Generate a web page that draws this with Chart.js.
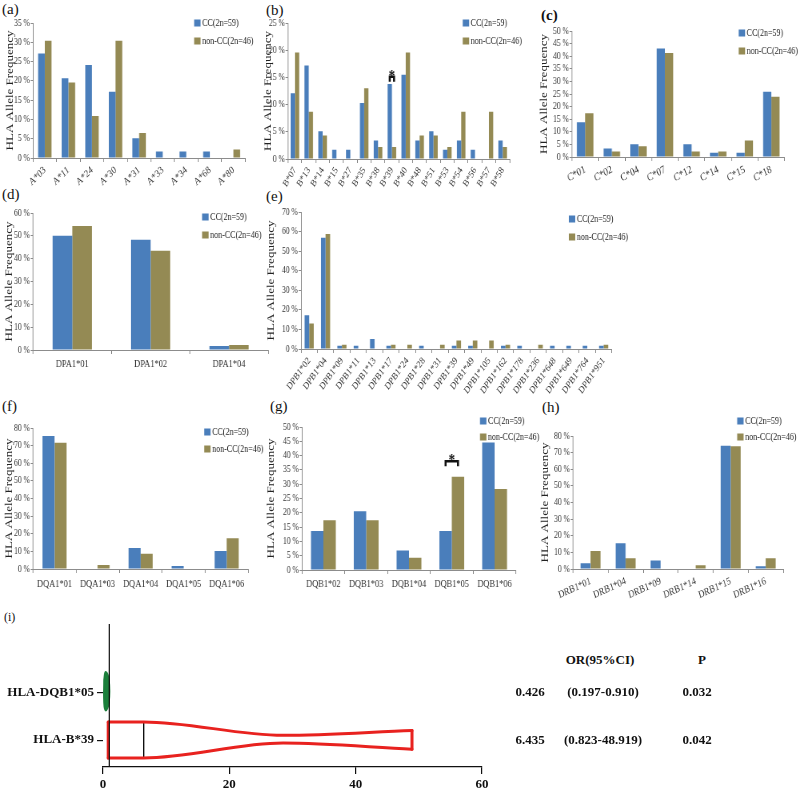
<!DOCTYPE html>
<html>
<head>
<meta charset="utf-8">
<script src="https://cdn.jsdelivr.net/npm/chart.js@4.4.1/dist/chart.umd.min.js"></script>
<style>
  body { margin: 0; background: #fff; width: 800px; height: 795px; position: relative; overflow: hidden; font-family: "Liberation Serif", "Times New Roman", serif; }
  canvas { position: absolute; }
  .lab { position: absolute; font-size: 15px; color: #111; line-height: 1; }
  .cell { position: absolute; font-size: 13px; font-weight: bold; color: #111; transform: translate(-50%, -50%); white-space: nowrap; }
</style>
</head>
<body>
<div class="lab" style="left:2px;top:2px">(a)</div>
<div class="lab" style="left:266px;top:3px">(b)</div>
<div class="lab" style="left:541px;top:8px;font-weight:bold">(c)</div>
<div class="lab" style="left:2px;top:187px">(d)</div>
<div class="lab" style="left:266px;top:189px">(e)</div>
<div class="lab" style="left:2px;top:399px">(f)</div>
<div class="lab" style="left:270px;top:399px">(g)</div>
<div class="lab" style="left:542px;top:400px">(h)</div>
<div class="lab" style="left:4px;top:611px;font-size:12px">(i)</div>

<script>
var BLUE = '#4a7ebb';
var OLIVE = '#948a54';
var AXIS = '#8c8c8c';
var seriesNames = ['CC(2n=59)', 'non-CC(2n=46)'];

// (a) HLA-A
var aLabels = ['A*03', 'A*11', 'A*24', 'A*30', 'A*31', 'A*33', 'A*34', 'A*68', 'A*80'];
var aCC  = [27.1, 20.7, 24.1, 17.2, 5.1, 1.7, 1.7, 1.7, 0];
var aNon = [30.4, 19.6, 10.9, 30.4, 6.5, 0, 0, 0, 2.2];

// (b) HLA-B
var bLabels = ['B*07', 'B*13', 'B*14', 'B*15', 'B*27', 'B*35', 'B*38', 'B*39', 'B*40', 'B*48', 'B*51', 'B*53', 'B*54', 'B*56', 'B*57', 'B*58'];
var bCC  = [12.1, 17.2, 5.1, 1.7, 1.7, 10.3, 3.4, 13.8, 15.5, 3.4, 5.1, 1.7, 3.4, 1.7, 0, 3.4];
var bNon = [19.6, 8.7, 4.3, 0, 0, 13.0, 2.2, 2.2, 19.6, 4.3, 4.3, 2.2, 8.7, 0, 8.7, 2.2];

// (c) HLA-C
var cLabels = ['C*01', 'C*02', 'C*04', 'C*07', 'C*12', 'C*14', 'C*15', 'C*18'];
var cCC  = [13.8, 3.4, 5.1, 43.1, 5.1, 1.7, 1.7, 25.9];
var cNon = [17.4, 2.2, 4.3, 41.3, 2.2, 2.2, 6.5, 23.9];

// (d) HLA-DPA1
var dLabels = ['DPA1*01', 'DPA1*02', 'DPA1*04'];
var dCC  = [50.0, 48.3, 1.7];
var dNon = [54.3, 43.5, 2.2];

// (e) HLA-DPB1
var eLabels = ['DPB1*02', 'DPB1*04', 'DPB1*09', 'DPB1*11', 'DPB1*13', 'DPB1*17', 'DPB1*24', 'DPB1*28', 'DPB1*31', 'DPB1*39', 'DPB1*49', 'DPB1*105', 'DPB1*162', 'DPB1*178', 'DPB1*236', 'DPB1*648', 'DPB1*649', 'DPB1*764', 'DPB1*951'];
var eCC  = [17.2, 56.9, 1.7, 1.7, 5.1, 1.7, 0, 1.7, 0, 1.7, 1.7, 0, 1.7, 1.7, 0, 1.7, 1.7, 1.7, 1.7];
var eNon = [13.0, 58.7, 2.2, 0, 0, 2.2, 2.2, 0, 2.2, 4.3, 4.3, 4.3, 2.2, 0, 2.2, 0, 0, 0, 2.2];

// (f) HLA-DQA1
var fLabels = ['DQA1*01', 'DQA1*03', 'DQA1*04', 'DQA1*05', 'DQA1*06'];
var fCC  = [75.4, 0, 11.9, 1.7, 10.2];
var fNon = [71.7, 2.2, 8.7, 0, 17.4];

// (g) HLA-DQB1
var gLabels = ['DQB1*02', 'DQB1*03', 'DQB1*04', 'DQB1*05', 'DQB1*06'];
var gCC  = [13.6, 20.5, 6.8, 13.6, 44.6];
var gNon = [17.4, 17.4, 4.3, 32.6, 28.3];

// (h) HLA-DRB1
var hLabels = ['DRB1*01', 'DRB1*04', 'DRB1*09', 'DRB1*14', 'DRB1*15', 'DRB1*16'];
var hCC  = [3.4, 15.5, 5.1, 0, 74.1, 1.7];
var hNon = [10.9, 6.5, 0, 2.2, 73.9, 6.5];

// (i) odds ratios
var orRows  = ['HLA-B*39', 'HLA-DQB1*05'];
var orValue = [6.435, 0.426];
var ciLow   = [0.823, 0.197];
var ciHigh  = [48.919, 0.910];
var pValue  = ['0.042', '0.032'];
// outline of the B*39 shape (offsets in row units)
var b39NeckX  = 28.5;
var b39Top    = [0.38, 0.38, 0.10, 0.20];
var b39Bottom = [-0.37, -0.37, -0.06, -0.19];
var dq05Half  = 0.40;

Chart.defaults.font.family = '"Liberation Serif", "Times New Roman", serif';
Chart.defaults.color = '#333';

// the bar panels are drawn wider and squeezed back, like the narrow lettering of the original
var SX = 0.8;

var boxLegend = {
  id: 'boxLegend',
  afterDraw: function(chart, args, o) {
    if (o.x == null) return;
    var ctx = chart.ctx;
    ctx.save();
    ctx.font = '10px "Liberation Serif", serif';
    ctx.textBaseline = 'middle';
    chart.data.datasets.forEach(function(ds, i) {
      var y = o.y + i * o.gap;
      ctx.fillStyle = ds.backgroundColor;
      ctx.fillRect(o.x, y - 3.5, 8, 7);
      ctx.fillStyle = '#222';
      ctx.fillText(ds.label, o.x + 10, y);
    });
    ctx.restore();
  }
};

// bracket with a star over a significant pair
var sigMark = {
  id: 'sigMark',
  afterDatasetsDraw: function(chart, args, o) {
    if (o.index == null) return;
    var a = chart.getDatasetMeta(0).data[o.index];
    var b = chart.getDatasetMeta(1).data[o.index];
    var y = chart.scales.y.getPixelForValue(o.value);
    var ctx = chart.ctx;
    ctx.save();
    ctx.strokeStyle = '#111';
    ctx.lineWidth = 2.5;
    ctx.beginPath();
    ctx.moveTo(a.x, y + 5);
    ctx.lineTo(a.x, y);
    ctx.lineTo(b.x, y);
    ctx.lineTo(b.x, y + 5);
    ctx.stroke();
    ctx.fillStyle = '#111';
    ctx.font = 'bold 16px "Liberation Serif", serif';
    ctx.textAlign = 'center';
    ctx.fillText('*', (a.x + b.x) / 2, y + 4);
    ctx.restore();
  }
};

function makeBar(c) {
  var bx = c.box[0], by = c.box[1], bw = c.box[2], bh = c.box[3];
  var dw = Math.round(bw / SX);
  var toD = function(px) { return (px - bx) / SX; };
  var rot = Math.atan(SX * Math.tan(c.rot * Math.PI / 180)) * 180 / Math.PI;
  var cv = document.createElement('canvas');
  cv.width = dw;
  cv.height = bh;
  cv.style.left = bx + 'px';
  cv.style.top = by + 'px';
  cv.style.width = (dw * SX) + 'px';
  cv.style.height = bh + 'px';
  document.body.appendChild(cv);
  return new Chart(cv, {
    type: 'bar',
    data: {
      labels: c.labels,
      datasets: [
        { label: seriesNames[0], data: c.cc, backgroundColor: BLUE },
        { label: seriesNames[1], data: c.non, backgroundColor: OLIVE }
      ]
    },
    options: {
      responsive: false,
      animation: false,
      events: [],
      layout: { padding: { left: 0, top: c.plot[1] - by, right: dw - toD(c.plot[2]), bottom: 0 } },
      datasets: { bar: { categoryPercentage: c.cat, barPercentage: 1 } },
      plugins: {
        legend: { display: false },
        tooltip: { enabled: false },
        boxLegend: { x: toD(c.leg[0]), y: c.leg[1] - by, gap: c.leg[2] },
        sigMark: c.sig ? { index: c.sig[0], value: c.sig[1] } : {}
      },
      scales: {
        x: {
          grid: { offset: true, drawOnChartArea: false, tickLength: 4, color: AXIS },
          border: { color: AXIS },
          ticks: { autoSkip: false, minRotation: rot, maxRotation: rot, font: { size: c.xf }, color: '#333', padding: c.xp },
          afterFit: function(s) { s.height = by + bh - c.plot[3]; }
        },
        y: {
          min: 0,
          max: c.max,
          ticks: { stepSize: c.step, autoSkip: false, callback: function(v) { return v + ' %'; }, font: { size: 9.5 }, color: '#333', padding: 1 },
          grid: { drawOnChartArea: false, tickLength: 3, color: AXIS },
          border: { color: AXIS },
          title: { display: true, text: 'HLA Allele Frequency', font: { size: 13 }, color: '#222', padding: { top: 0, bottom: 0 } },
          afterFit: function(s) { s.width = toD(c.plot[0]); }
        }
      }
    },
    plugins: [boxLegend, sigMark]
  });
}

// box: [left, top, width, height] on the page, plot: [left, top, right, bottom] of the plot area
makeBar({ labels: aLabels, cc: aCC, non: aNon, box: [4, 0, 261, 195], plot: [33, 23, 245, 158],
  max: 35, step: 5, rot: 45, xf: 10.5, xp: 2, cat: 0.57, leg: [194, 23, 18] });
makeBar({ labels: bLabels, cc: bCC, non: bNon, box: [262, 0, 270, 195], plot: [288, 23, 510, 159],
  max: 25, step: 5, rot: 60, xf: 10, xp: 2, cat: 0.62, leg: [463, 23, 18], sig: [7, 15.1] });
makeBar({ labels: cLabels, cc: cCC, non: cNon, box: [538, 0, 262, 190], plot: [572, 31, 785, 157],
  max: 50, step: 5, rot: 30, xf: 11, xp: 2, cat: 0.62, leg: [739, 33, 18] });
makeBar({ labels: dLabels, cc: dCC, non: dNon, box: [3, 195, 269, 180], plot: [33, 213, 268, 350],
  max: 60, step: 10, rot: 0, xf: 10.5, xp: 4, cat: 0.5, leg: [202, 217, 18] });
makeBar({ labels: eLabels, cc: eCC, non: eNon, box: [265, 195, 395, 200], plot: [301, 212, 612, 349],
  max: 70, step: 10, rot: 55, xf: 10, xp: 2, cat: 0.56, leg: [569, 219, 18] });
makeBar({ labels: fLabels, cc: fCC, non: fNon, box: [3, 405, 265, 190], plot: [33, 428, 248, 569],
  max: 80, step: 10, rot: 0, xf: 10.5, xp: 5, cat: 0.56, leg: [204, 432, 17] });
makeBar({ labels: gLabels, cc: gCC, non: gNon, box: [265, 405, 280, 190], plot: [302, 427, 516, 570],
  max: 50, step: 5, rot: 0, xf: 10.5, xp: 4, cat: 0.58, leg: [480, 421, 16], sig: [3, 38] });
makeBar({ labels: hLabels, cc: hCC, non: hNon, box: [539, 405, 261, 200], plot: [573, 436, 783, 569],
  max: 80, step: 10, rot: 25, xf: 10.5, xp: 2, cat: 0.57, leg: [737, 421, 16] });

// (i) odds ratio plot
var iBox = [0, 600, 520, 195];
var iPlot = [103, 624, 482, 767];
var YMIN = -0.56, YMAX = 2.42;
var RED = '#e8221f', GREEN = '#1b7f3b';

function pts(xs, ys) { return xs.map(function(x, i) { return { x: x, y: ys[i] }; }); }
function line(data, color, width, extra) {
  var d = { data: data, showLine: true, borderColor: color, borderWidth: width, pointRadius: 0, tension: 0, borderCapStyle: 'round', borderJoinStyle: 'round' };
  for (var k in extra) d[k] = extra[k];
  return d;
}
var r0 = 0, r1 = 1.02;
var redX = [ciLow[0], orValue[0], b39NeckX, ciHigh[0]];
var greenPts = pts(
  [ciLow[1], orValue[1], ciHigh[1], ciHigh[1], orValue[1], ciLow[1], ciLow[1]],
  [r1 + dq05Half * 0.6, r1 + dq05Half, r1 + dq05Half * 0.6, r1 - dq05Half * 0.6, r1 - dq05Half, r1 - dq05Half * 0.6, r1 + dq05Half * 0.6]);

var iCanvas = document.createElement('canvas');
iCanvas.width = iBox[2];
iCanvas.height = iBox[3];
iCanvas.style.left = iBox[0] + 'px';
iCanvas.style.top = iBox[1] + 'px';
document.body.appendChild(iCanvas);

var chartI = new Chart(iCanvas, {
  type: 'scatter',
  data: {
    datasets: [
      line(pts([1, 1], [YMIN, YMAX]), '#111', 1.2),
      line(pts(redX, b39Top.map(function(v) { return r0 + v; })), RED, 3, { cubicInterpolationMode: 'monotone' }),
      line(pts(redX, b39Bottom.map(function(v) { return r0 + v; })), RED, 3, { cubicInterpolationMode: 'monotone' }),
      line(pts([ciLow[0], ciLow[0]], [r0 + b39Top[0], r0 + b39Bottom[0]]), RED, 3),
      line(pts([ciHigh[0], ciHigh[0]], [r0 + b39Top[3], r0 + b39Bottom[3]]), RED, 3),
      line(pts([orValue[0], orValue[0]], [r0 + b39Top[1], r0 + b39Bottom[1]]), '#111', 1),
      line(greenPts, GREEN, 2, { tension: 0.45, fill: 'shape', backgroundColor: GREEN })
    ]
  },
  options: {
    responsive: false,
    animation: false,
    events: [],
    layout: { padding: { left: 0, top: iPlot[1] - iBox[1], right: iBox[0] + iBox[2] - iPlot[2], bottom: 0 } },
    plugins: { legend: { display: false }, tooltip: { enabled: false } },
    scales: {
      x: {
        type: 'linear', min: 0, max: 60,
        ticks: { stepSize: 20, font: { size: 13, weight: 'bold' }, color: '#111', padding: 3 },
        grid: { drawOnChartArea: false, tickLength: 7, color: '#111', lineWidth: 1.2 },
        border: { color: '#111', width: 1.2 },
        afterFit: function(s) { s.height = iBox[1] + iBox[3] - iPlot[3]; }
      },
      y: {
        type: 'linear', min: YMIN, max: YMAX,
        afterBuildTicks: function(s) { s.ticks = orRows.map(function(_, i) { return { value: i }; }); },
        ticks: { callback: function(v) { return orRows[v]; }, font: { size: 13, weight: 'bold' }, color: '#111', padding: 3 },
        grid: { drawOnChartArea: false, tickLength: 6, color: '#111', lineWidth: 1.2 },
        border: { display: false },
        afterFit: function(s) { s.width = iPlot[0] - iBox[0]; }
      }
    }
  }
});

// OR table laid on the rows of the plot
var ys = chartI.scales.y;
var tableRowPos = [0, 1];
var tableHeadPos = 1.67;
function cell(text, x, v) {
  var d = document.createElement('div');
  d.className = 'cell';
  d.textContent = text;
  d.style.left = x + 'px';
  d.style.top = (iBox[1] + ys.getPixelForValue(v)) + 'px';
  document.body.appendChild(d);
}
cell('OR(95%CI)', 600, tableHeadPos);
cell('P', 702, tableHeadPos);
orRows.forEach(function(r, i) {
  cell(orValue[i].toFixed(3), 530, tableRowPos[i]);
  cell('(' + ciLow[i].toFixed(3) + '-' + ciHigh[i].toFixed(3) + ')', 603, tableRowPos[i]);
  cell(pValue[i], 697, tableRowPos[i]);
});
</script>
</body>
</html>
